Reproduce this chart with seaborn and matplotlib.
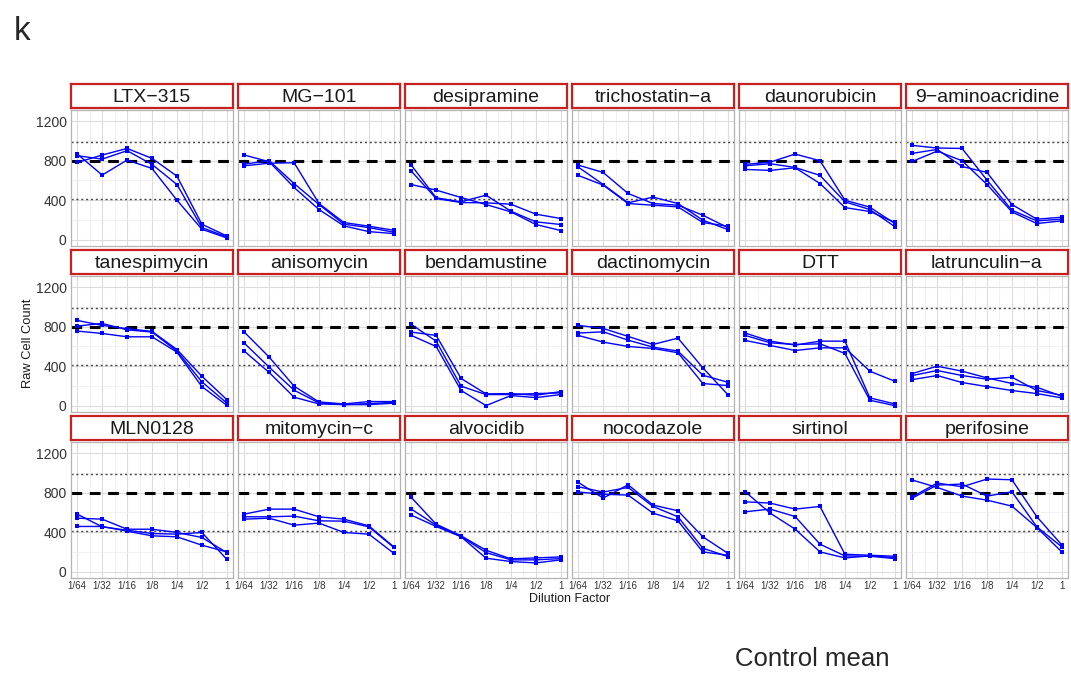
import numpy as np
import pandas as pd
import seaborn as sns
import matplotlib.pyplot as plt
from matplotlib.ticker import MultipleLocator

W, H = 1071, 675

dilution_labels = ["1/64", "1/32", "1/16", "1/8", "1/4", "1/2", "1"]
dilution = [1/64, 1/32, 1/16, 1/8, 1/4, 1/2, 1]

drugs = ["LTX\u2212315", "MG\u2212101", "desipramine", "trichostatin\u2212a",
         "daunorubicin", "9\u2212aminoacridine", "tanespimycin", "anisomycin",
         "bendamustine", "dactinomycin", "DTT", "latrunculin\u2212a",
         "MLN0128", "mitomycin\u2212c", "alvocidib", "nocodazole",
         "sirtinol", "perifosine"]

# three replicates per drug, raw counts at each dilution
ltx_315 = [[868, 655, 807, 722, 400, 105, 17],
           [851, 817, 902, 763, 559, 122, 27],
           [783, 858, 925, 824, 644, 156, 37]]
mg_101 = [[858, 790, 529, 305, 139, 81, 61],
          [766, 800, 569, 356, 156, 122, 75],
          [749, 775, 780, 366, 173, 136, 95]]
desipramine = [[756, 424, 383, 451, 288, 180, 153],
               [695, 417, 376, 373, 359, 258, 214],
               [559, 502, 427, 356, 281, 153, 92]]
trichostatin_a = [[756, 681, 468, 366, 349, 247, 122],
                  [736, 559, 373, 431, 366, 197, 102],
                  [651, 553, 366, 349, 332, 173, 136]]
daunorubicin = [[763, 786, 868, 800, 400, 329, 163],
                [749, 770, 732, 651, 383, 305, 132],
                [712, 702, 729, 569, 325, 285, 176]]
aminoacridine = [[956, 929, 925, 603, 298, 190, 207],
                 [875, 915, 742, 681, 356, 207, 227],
                 [793, 898, 800, 559, 281, 163, 190]]
tanespimycin = [[864, 814, 780, 753, 569, 298, 61],
                [807, 834, 769, 746, 553, 241, 27],
                [756, 732, 698, 698, 542, 193, 3]]
anisomycin = [[746, 492, 197, 37, 17, 41, 41],
              [634, 390, 156, 27, 10, 20, 34],
              [553, 336, 85, 17, 10, 10, 24]]
bendamustine = [[824, 654, 197, 112, 112, 122, 129],
                [746, 712, 275, 119, 122, 105, 142],
                [712, 600, 153, 0, 102, 81, 112]]
dactinomycin = [[814, 783, 702, 620, 685, 383, 112],
                [736, 749, 664, 593, 553, 308, 237],
                [712, 644, 600, 580, 536, 224, 203]]
dtt = [[736, 654, 614, 654, 654, 78, 17],
       [712, 637, 620, 627, 529, 54, 0],
       [661, 610, 559, 586, 586, 349, 247]]
latrunculin_a = [[325, 400, 349, 281, 224, 186, 95],
                 [305, 356, 305, 268, 288, 153, 105],
                 [264, 305, 234, 193, 153, 122, 78]]
mln0128 = [[583, 454, 420, 386, 380, 397, 125],
           [542, 532, 430, 430, 397, 346, 193],
           [458, 458, 410, 363, 353, 268, 200]]
mitomycin_c = [[583, 634, 634, 556, 532, 464, 251],
               [556, 556, 563, 515, 512, 454, 245],
               [532, 542, 471, 492, 397, 380, 186]]
alvocidib = [[753, 481, 363, 217, 129, 139, 149],
             [634, 471, 356, 193, 119, 119, 132],
             [573, 458, 353, 136, 102, 88, 119]]
nocodazole = [[905, 746, 881, 675, 617, 353, 186],
              [861, 807, 854, 661, 556, 237, 153],
              [807, 786, 776, 593, 515, 200, 166]]
sirtinol = [[810, 593, 431, 200, 139, 159, 142],
            [708, 695, 634, 661, 176, 166, 156],
            [607, 634, 559, 278, 159, 156, 132]]
perifosine = [[929, 854, 766, 725, 664, 447, 200],
              [759, 898, 861, 939, 932, 556, 271],
              [746, 878, 888, 766, 810, 454, 251]]

raw_counts = [ltx_315, mg_101, desipramine, trichostatin_a, daunorubicin,
              aminoacridine, tanespimycin, anisomycin, bendamustine,
              dactinomycin, dtt, latrunculin_a, mln0128, mitomycin_c,
              alvocidib, nocodazole, sirtinol, perifosine]

control_mean = 800
control_upper = 990
control_lower = 413

rows = []
for drug, reps in zip(drugs, raw_counts):
    for r, vals in enumerate(reps):
        for d, v in zip(dilution, vals):
            rows.append({"drug": drug, "rep": r, "dil": np.log2(d), "count": v})
df = pd.DataFrame(rows)

sns.set_style("white")
plt.rcParams["font.family"] = ["Liberation Sans", "DejaVu Sans"]


def box(x, y, w, h):
    return [x / W, 1 - (y + h) / H, w / W, h / H]


fig = plt.figure(figsize=(W / 100, H / 100), dpi=100)
red = "#C8201E"

for i, drug in enumerate(drugs):
    r, c = divmod(i, 6)
    x0 = 71 + c * 167
    y0 = 110 + r * 166
    ax = fig.add_axes(box(x0, y0, 162, 136))
    sub = df[df["drug"] == drug]

    ax.axhline(control_upper, color="#444444", lw=1.0, ls=(0, (1.5, 2)), zorder=1)
    ax.axhline(control_lower, color="#444444", lw=1.0, ls=(0, (1.5, 2)), zorder=1)
    ax.axhline(control_mean, color="black", lw=2.2, ls=(0, (3.5, 2.5)), zorder=1)

    sns.lineplot(data=sub, x="dil", y="count", units="rep", estimator=None,
                 color="#0000FF", lw=1.0, marker="s", markersize=3.2,
                 markeredgewidth=0, ax=ax, zorder=3)

    ax.set_xlim(-6.25, 0.25)
    ax.set_ylim(-65, 1315)
    ax.set_xticks(np.log2(dilution))
    ax.xaxis.set_minor_locator(MultipleLocator(0.5))
    ax.set_yticks([0, 400, 800, 1200])
    ax.yaxis.set_minor_locator(MultipleLocator(200))
    ax.grid(which="major", color="#DCDCDC", lw=0.8)
    ax.grid(which="minor", color="#EDEDED", lw=0.5)
    ax.set_axisbelow(True)
    for s in ax.spines.values():
        s.set_color("#B3B3B3")
        s.set_linewidth(0.9)
    ax.set_xlabel("")
    ax.set_ylabel("")
    ax.tick_params(which="minor", length=0)
    ax.tick_params(which="major", length=2, color="#B3B3B3", width=0.8,
                   pad=1.2, labelcolor="#333333")
    if c == 0:
        ax.tick_params(axis="y", labelsize=10)
    else:
        ax.tick_params(axis="y", left=False, labelleft=False)
    if r == 2:
        ax.tick_params(axis="x", pad=0.3)
        ax.set_xticklabels(dilution_labels, fontsize=7)
    else:
        ax.tick_params(axis="x", bottom=False, labelbottom=False)

    st = fig.add_axes(box(x0, y0 - 26, 162, 24))
    st.set_xticks([])
    st.set_yticks([])
    for s in st.spines.values():
        s.set_color(red)
        s.set_linewidth(1.6)
    st.text(0.5, 0.45, drug, ha="center", va="center", fontsize=14,
            color="#1A1A1A", transform=st.transAxes)

fig.text(28 / W, 1 - 343 / H, "Raw Cell Count", rotation=90, ha="center",
         va="center", fontsize=9.3, color="#1A1A1A")
fig.text(570 / W, 1 - 599 / H, "Dilution Factor", ha="center", va="center",
         fontsize=9, color="#1A1A1A")
fig.text(14 / W, 1 - 40 / H, "k", ha="left", va="baseline", fontsize=24)
fig.text(735 / W, 1 - 659 / H, "Control mean", ha="left", va="center",
         fontsize=18.5)

fig.savefig("out.png", dpi=100)
